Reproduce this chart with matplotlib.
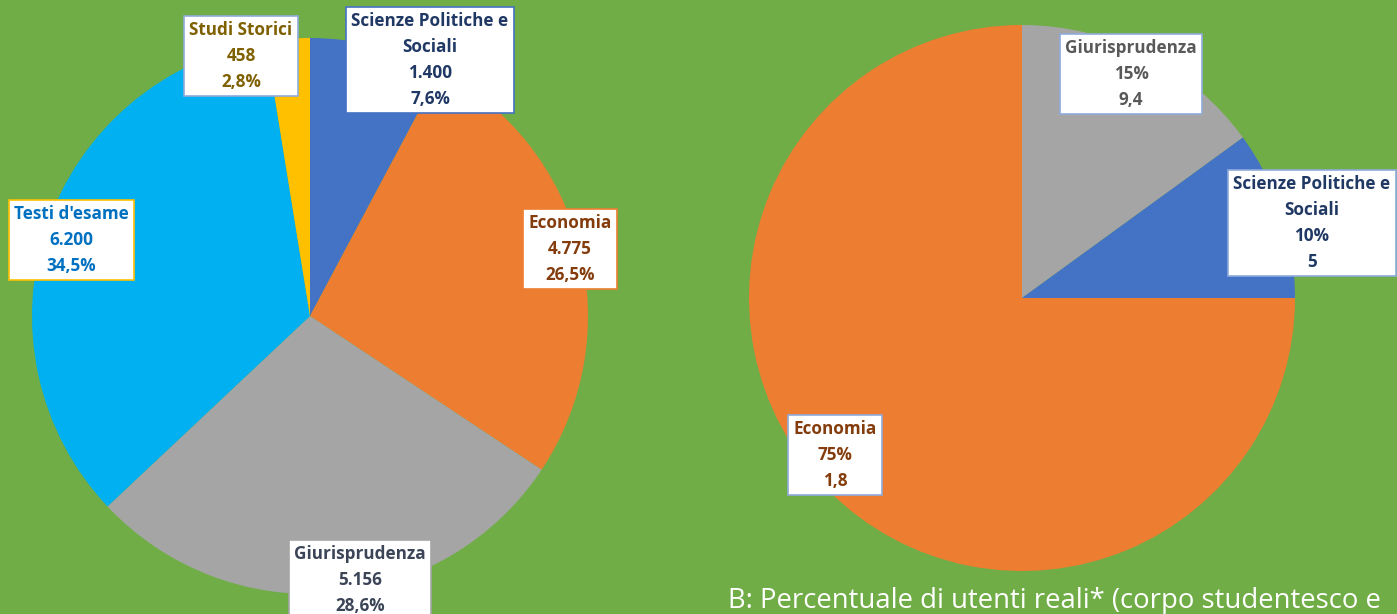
import matplotlib.pyplot as plt

# left pie: counts per area
left_labels = ['Scienze Politiche e\nSociali', 'Economia', 'Giurisprudenza', "Testi d'esame", 'Studi Storici']
left_values = [1400, 4775, 5156, 6200, 458]
left_counts_txt = ['1.400', '4.775', '5.156', '6.200', '458']
left_pcts_txt = ['7,6%', '26,5%', '28,6%', '34,5%', '2,8%']

# right pie: share of real users
right_labels = ['Giurisprudenza', 'Scienze Politiche e\nSociali', 'Economia']
right_pcts = [15, 10, 75]
right_extra_txt = ['9,4', '5', '1,8']

bg = '#70AD47'
left_colors = ['#4472C4', '#ED7D31', '#A5A5A5', '#00B0F0', '#FFC000']
right_colors = ['#A5A5A5', '#4472C4', '#ED7D31']

W, H = 1397, 614
fig = plt.figure(figsize=(W / 100, H / 100), dpi=100, facecolor=bg)
ax = fig.add_axes([0, 0, 1, 1])
ax.set_facecolor(bg)

ax.pie(left_values, colors=left_colors, startangle=90, counterclock=False,
       center=(310, H - 316), radius=278, frame=True,
       wedgeprops=dict(linewidth=0))
ax.pie(right_pcts, colors=right_colors, startangle=90, counterclock=False,
       center=(1022, H - 298), radius=273, frame=True,
       wedgeprops=dict(linewidth=0))
ax.set_xlim(0, W)
ax.set_ylim(0, H)
ax.set_aspect('equal')
ax.axis('off')

font = 'Open Sans'

# label boxes (pixel centres, y from top)
left_pos = [(430, 60), (570, 249), (360, 580), (71, 240), (241, 56)]
left_txt_col = ['#203864', '#843C0C', '#3B4557', '#0070C0', '#7F6000']
left_edge = ['#4472C4', '#ED7D31', '#A5A5A5', '#FFC000', '#8FAADC']
for i in range(len(left_labels)):
    x, y = left_pos[i]
    ax.text(x, H - y, f'{left_labels[i]}\n{left_counts_txt[i]}\n{left_pcts_txt[i]}',
            ha='center', va='center', fontsize=12.3, fontweight='bold', family=font,
            color=left_txt_col[i], linespacing=1.55,
            bbox=dict(boxstyle='square,pad=0.3', fc='white', ec=left_edge[i], lw=1.2))

right_pos = [(1131, 74), (1312, 223), (835, 455)]
right_txt_col = ['#595959', '#203864', '#843C0C']
for i in range(len(right_labels)):
    x, y = right_pos[i]
    ax.text(x, H - y, f'{right_labels[i]}\n{right_pcts[i]}%\n{right_extra_txt[i]}',
            ha='center', va='center', fontsize=12.3, fontweight='bold', family=font,
            color=right_txt_col[i], linespacing=1.55,
            bbox=dict(boxstyle='square,pad=0.3', fc='white', ec='#8FAADC', lw=1.2))

ax.text(728, H - 608, 'B: Percentuale di utenti reali* (corpo studentesco e',
        ha='left', va='baseline', fontsize=19.8, family='Open Sans', color='white')

fig.savefig('out.png', dpi=100, facecolor=bg)
